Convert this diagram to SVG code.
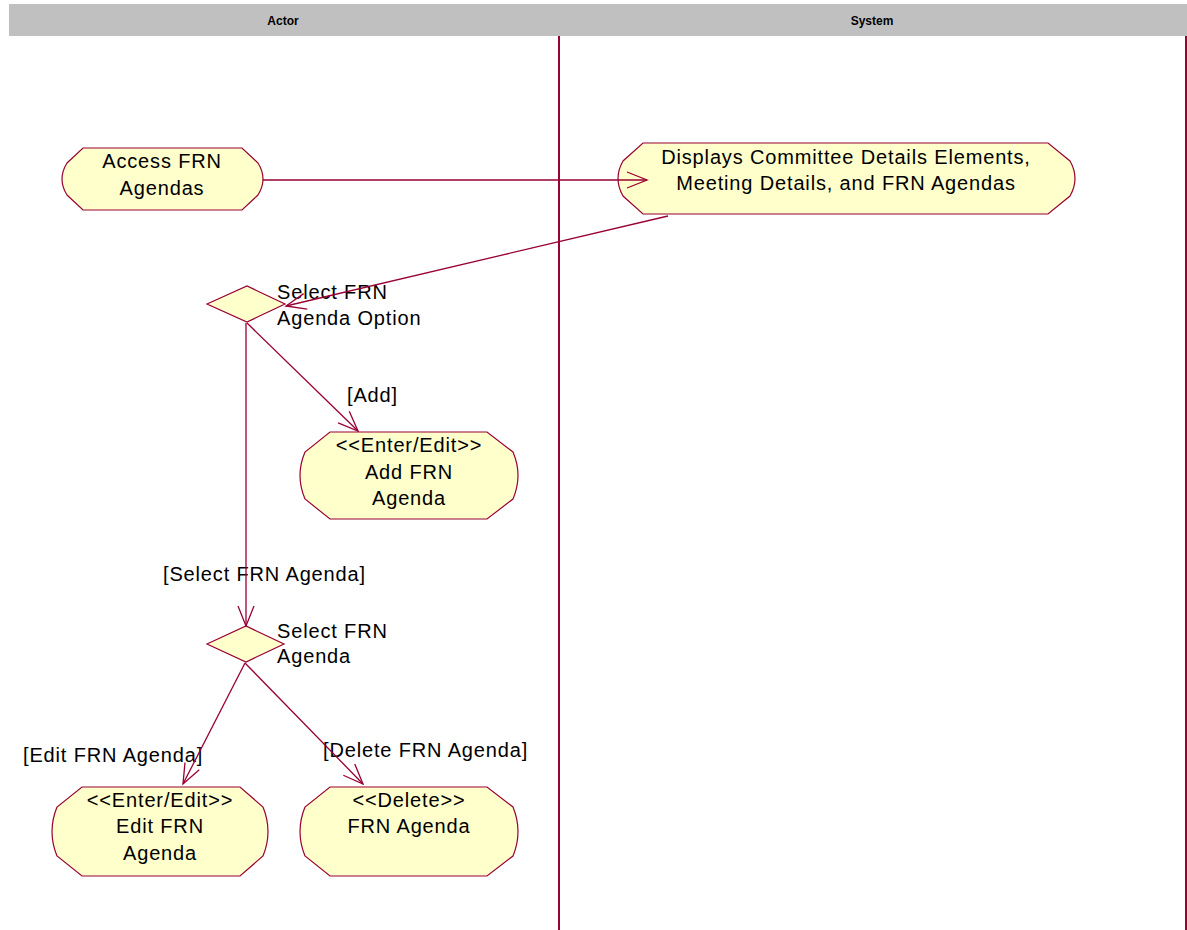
<svg xmlns="http://www.w3.org/2000/svg" width="1187" height="930" viewBox="0 0 1187 930">
<style>
.node{fill:#FFFFCC;stroke:#990033;stroke-width:1.2}
.t{font-family:"Liberation Sans",Arial,sans-serif;font-size:20px;letter-spacing:0.85px;fill:#000}
.m{text-anchor:middle}
.h{font-family:"Liberation Sans",Arial,sans-serif;font-size:12px;font-weight:bold;fill:#000;text-anchor:middle}
.c{fill:none;stroke:#990033;stroke-width:1.3}
.lane{stroke:#990033;stroke-width:2}
</style>
<defs>
<marker id="arr" markerUnits="userSpaceOnUse" markerWidth="24" markerHeight="20" refX="0" refY="0" viewBox="-22 -10 24 20" orient="auto" overflow="visible">
<path d="M-20,-8 L0,0 L-20,8" fill="none" stroke="#990033" stroke-width="1.3"/>
</marker>
</defs>
<rect width="1187" height="930" fill="#fff"/>
<g id="header">
<rect x="9" y="4" width="1178" height="32" fill="#C0C0C0"/>
<text class="h" x="283" y="25">Actor</text>
<text class="h" x="872" y="25">System</text>
</g>
<g id="lanes">
<line class="lane" x1="559" y1="36" x2="559" y2="930"/>
<line class="lane" x1="1186" y1="36" x2="1186" y2="930"/>
</g>
<g id="n-access">
<path class="node" d="M83,148 H242 L258,163 Q268,179 258,195 L242,210 H83 L67,195 Q57,179 67,163 Z"/>
<text class="t m" x="162" y="168">Access FRN</text>
<text class="t m" x="162" y="195">Agendas</text>
</g>
<g id="n-displays">
<path class="node" d="M643,143 H1048 L1070,161 Q1080,178.5 1070,196 L1048,214 H643 L623,196 Q613,178.5 623,161 Z"/>
<text class="t m" x="846" y="164">Displays Committee Details Elements,</text>
<text class="t m" x="846" y="190">Meeting Details, and FRN Agendas</text>
</g>
<g id="d-option">
<path class="node" d="M207,304 L247,286 L285,304 L247,322 Z"/>
<text class="t" x="277" y="299">Select FRN</text>
<text class="t" x="277" y="325">Agenda Option</text>
</g>
<g id="n-add">
<path class="node" d="M330,432 H487 L513,452 Q523,475.5 513,499 L487,519 H330 L305,499 Q295,475.5 305,452 Z"/>
<text class="t m" x="409" y="452">&lt;&lt;Enter/Edit&gt;&gt;</text>
<text class="t m" x="409" y="479">Add FRN</text>
<text class="t m" x="409" y="505">Agenda</text>
</g>
<g id="d-select">
<path class="node" d="M207,644 L246,626 L284,644 L246,662 Z"/>
<text class="t" x="277" y="638">Select FRN</text>
<text class="t" x="277" y="663">Agenda</text>
</g>
<g id="n-edit">
<path class="node" d="M82,787 H240 L263,807 Q273,831.5 263,856 L240,876 H82 L57,856 Q47,831.5 57,807 Z"/>
<text class="t m" x="160" y="807">&lt;&lt;Enter/Edit&gt;&gt;</text>
<text class="t m" x="160" y="833">Edit FRN</text>
<text class="t m" x="160" y="860">Agenda</text>
</g>
<g id="n-delete">
<path class="node" d="M330,787 H487 L513,807 Q523,831.5 513,856 L487,876 H330 L305,856 Q295,831.5 305,807 Z"/>
<text class="t m" x="409" y="807">&lt;&lt;Delete&gt;&gt;</text>
<text class="t m" x="409" y="833">FRN Agenda</text>
</g>
<g id="labels">
<text class="t" x="347" y="402">[Add]</text>
<text class="t" x="163" y="581">[Select FRN Agenda]</text>
<text class="t" x="23" y="762">[Edit FRN Agenda]</text>
<text class="t" x="323" y="757">[Delete FRN Agenda]</text>
</g>
<g id="connectors">
<path class="c" d="M263,180 L647,180" marker-end="url(#arr)"/>
<path class="c" d="M668,216 L286,306" marker-end="url(#arr)"/>
<path class="c" d="M247,323 L358,431" marker-end="url(#arr)"/>
<path class="c" d="M246,323 L246,626" marker-end="url(#arr)"/>
<path class="c" d="M245,663 L183,784" marker-end="url(#arr)"/>
<path class="c" d="M245,663 L363,784" marker-end="url(#arr)"/>
</g>
</svg>
